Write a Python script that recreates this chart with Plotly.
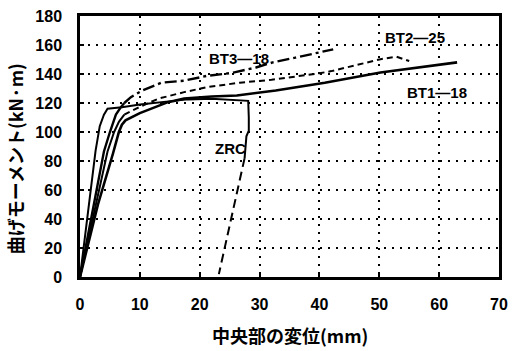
import plotly.graph_objects as go

# ---- data ----
zrc_x = [0, 1.5, 2.6, 3.3, 4.0, 4.6, 7.0, 10.0, 14.0, 18.0, 22.0, 25.0, 27.3, 28.1, 28.2, 28.2, 27.8, 27.5, 23.2]
zrc_y = [0, 48, 87, 104, 112, 116, 117, 119, 121, 122.5, 123, 122.5, 122, 121.5, 110, 101, 97, 82, 2]
zrc_solid_end = 17  # index where the dashed part begins

bt1_x = [0, 3.0, 5.5, 6.5, 7.0, 7.6, 10.0, 14.7, 17.4, 22.0, 26.2, 32.7, 40.9, 50.2, 63.0]
bt1_y = [0, 50, 85, 100, 105, 108, 113, 120.6, 123, 124.5, 125.2, 128.6, 134, 141, 148]

bt2_x = [0, 4.6, 5.7, 6.5, 7.4, 9.3, 13.1, 17.4, 21.3, 26.7, 32.0, 36.0, 40.0, 42.0, 45.8, 48.0, 50.2, 52.8, 55.0]
bt2_y = [0, 86.6, 100, 107, 112, 116, 123, 127.5, 131, 134, 136, 138, 140.5, 142, 145.6, 147.6, 150.2, 152, 149]
bt2_solid_end = 4

bt3_x = [0, 4.0, 5.0, 6.0, 6.8, 7.4, 8.5, 10.4, 13.6, 17.4, 21.3, 24.0, 25.6, 29.4, 32.2, 36.0, 39.3, 42.3]
bt3_y = [0, 86.6, 100, 112, 117, 120, 124, 128.6, 134, 135.4, 138.8, 140, 141, 144.5, 148, 151.3, 154.3, 157]
bt3_solid_end = 5

x_ticks = [0, 10, 20, 30, 40, 50, 60, 70]
y_ticks = [0, 20, 40, 60, 80, 100, 120, 140, 160, 180]

labels = ["BT3—18", "BT2—25", "BT1—18", "ZRC"]
label_x = [26.5, 55.9, 59.7, 25.2]
label_y = [150.6, 165, 127.5, 88.3]

x_title = "中央部の変位(mm)"
y_title = "曲げモーメント(kN·m)"

# ---- figure ----
fig = go.Figure()

def add(xs, ys, dash, width):
    fig.add_trace(go.Scatter(x=xs, y=ys, mode="lines",
                             line=dict(color="black", width=width, dash=dash),
                             hoverinfo="skip", showlegend=False))

# ZRC
add(zrc_x[:zrc_solid_end + 1], zrc_y[:zrc_solid_end + 1], "solid", 2)
add(zrc_x[zrc_solid_end:], zrc_y[zrc_solid_end:], "9px,5px", 2)
# BT1-18
add(bt1_x, bt1_y, "solid", 2.6)
# BT2-25
add(bt2_x[:bt2_solid_end + 1], bt2_y[:bt2_solid_end + 1], "solid", 2)
add(bt2_x[bt2_solid_end:], bt2_y[bt2_solid_end:], "6px,4px", 2)
# BT3-18
add(bt3_x[:bt3_solid_end + 1], bt3_y[:bt3_solid_end + 1], "solid", 2.4)
add(bt3_x[bt3_solid_end:], bt3_y[bt3_solid_end:], "12px,4px,3px,4px", 2.4)

lab_font = dict(family="Liberation Sans, Arial, sans-serif", size=15, color="black", weight="bold")
for t, xx, yy in zip(labels, label_x, label_y):
    fig.add_annotation(x=xx, y=yy, text=t, showarrow=False, font=lab_font,
                       xanchor="center", yanchor="middle")

title_font = dict(family="Noto Sans CJK JP, sans-serif", size=18, color="black", weight="bold")
fig.add_annotation(xref="paper", yref="paper", x=0.502, y=-0.223, text=x_title,
                   showarrow=False, font=title_font, xanchor="center", yanchor="middle")
fig.add_annotation(xref="paper", yref="paper", x=-0.155, y=0.451, text=y_title,
                   showarrow=False, font=title_font, xanchor="center", yanchor="middle",
                   textangle=-90)

tick_font = dict(family="Liberation Sans Narrow, Arial Narrow, Liberation Sans, sans-serif",
                 size=16, color="black", weight="bold")
axis_common = dict(showline=True, linecolor="black", linewidth=2.5, mirror=True,
                   ticks="inside", ticklen=4, tickcolor="black", tickwidth=1.5,
                   showgrid=True, gridcolor="black", gridwidth=1.6, griddash="2px,6px",
                   zeroline=False, tickfont=tick_font)

fig.update_xaxes(range=[0, 70], tickvals=x_ticks, ticklabelstandoff=11, **axis_common)
fig.update_yaxes(range=[0, 180], tickvals=y_ticks, ticklabelstandoff=12, **axis_common)

fig.update_layout(width=516, height=351, margin=dict(l=80, r=8, t=13, b=74),
                  plot_bgcolor="white", paper_bgcolor="white")

fig.write_html("out.html")
